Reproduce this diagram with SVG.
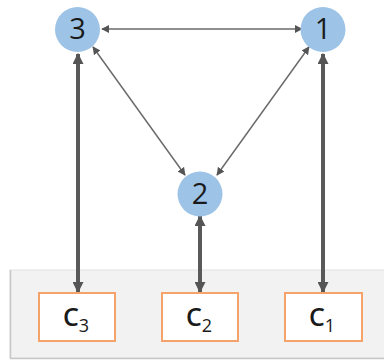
<svg xmlns="http://www.w3.org/2000/svg" width="384" height="360" viewBox="0 0 384 360">
<style>
.node circle{fill:#9dc3e6}
.node text{font-family:"Open Sans","Liberation Sans",sans-serif;font-size:29px;fill:#1a1a1a;text-anchor:middle}
.box rect{fill:#fff;stroke:#f4a46a;stroke-width:2}
.box text{font-family:"Open Sans","Liberation Sans",sans-serif;font-size:25px;font-weight:600;fill:#1a1a1a}
.box tspan{font-size:18px;font-weight:400}
.thin{stroke:#6a6a6a;stroke-width:1.5;fill:none;marker-start:url(#ah);marker-end:url(#ah)}
.thick{stroke:#595959;stroke-width:4;fill:none;marker-start:url(#ahb);marker-end:url(#ahb)}
</style>
<defs>
<marker id="ah" viewBox="0 0 10 10" refX="9" refY="5" markerWidth="8" markerHeight="8" orient="auto-start-reverse" markerUnits="userSpaceOnUse"><path d="M0,0 L10,5 L0,10 z" fill="#555"/></marker>
<marker id="ahb" viewBox="0 0 10 10" refX="9" refY="5" markerWidth="11" markerHeight="11" orient="auto-start-reverse" markerUnits="userSpaceOnUse"><path d="M0,0 L10,5 L0,10 z" fill="#555"/></marker>
</defs>
<rect x="10" y="270" width="380" height="88" fill="#f2f2f2" stroke="#e2e2e2" stroke-width="1"/>
<path d="M10.5,270 V358.5 H384" fill="none" stroke="#c8c8c8" stroke-width="1.5"/>
<g id="connectors">
<line class="thin" x1="102" y1="29" x2="302" y2="29"/>
<line class="thin" x1="93" y1="47" x2="185" y2="175"/>
<line class="thin" x1="309" y1="47" x2="217" y2="175"/>
<line class="thick" x1="78" y1="54" x2="78" y2="292"/>
<line class="thick" x1="323" y1="54" x2="323" y2="292"/>
<line class="thick" x1="200" y1="216" x2="200" y2="292"/>
</g>
<g id="n3" class="node"><circle cx="77.5" cy="29.5" r="22.5"/><text x="77.5" y="39">3</text></g>
<g id="n1" class="node"><circle cx="323" cy="29.5" r="22.5"/><text x="323" y="39">1</text></g>
<g id="n2" class="node"><circle cx="200" cy="194" r="22.5"/><text x="200" y="203.5">2</text></g>
<g id="c3" class="box"><rect x="39" y="293" width="76" height="48"/><text x="63" y="326">C<tspan dx="0" dy="6">3</tspan></text></g>
<g id="c2" class="box"><rect x="162" y="293" width="76" height="48"/><text x="186" y="326">C<tspan dx="0" dy="6">2</tspan></text></g>
<g id="c1" class="box"><rect x="285" y="293" width="77" height="48"/><text x="309" y="326">C<tspan dx="0" dy="6">1</tspan></text></g>
</svg>
